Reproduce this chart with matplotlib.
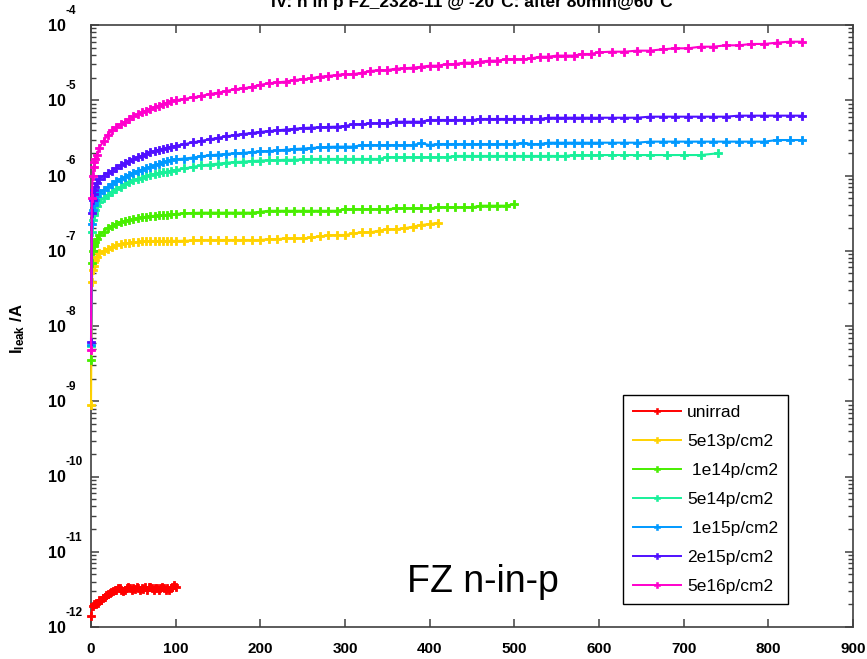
import matplotlib
matplotlib.use('Agg')
import matplotlib.pyplot as plt
from matplotlib.ticker import LogLocator, NullFormatter, NullLocator, FixedLocator, FixedFormatter
from matplotlib.lines import Line2D

plt.rcParams['font.family'] = ['Liberation Sans', 'DejaVu Sans']
plt.rcParams['mathtext.fontset'] = 'custom'
plt.rcParams['mathtext.rm'] = 'Liberation Sans'
plt.rcParams['mathtext.bf'] = 'Liberation Sans:bold'
plt.rcParams['mathtext.it'] = 'Liberation Sans:italic'

# ---------------- data ----------------
title = "IV: n in p FZ_2328-11 @ -20\u00b0C: after 80min@60\u00b0C"
annotation = "FZ n-in-p"
ylabel = r"$\mathbf{I_{leak}}$ /A"
labels = ['unirrad', '5e13p/cm2', ' 1e14p/cm2', '5e14p/cm2', ' 1e15p/cm2', '2e15p/cm2', '5e16p/cm2']
colors = ['#ff0000', '#ffd200', '#48ee00', '#18f09a', '#0099ff', '#5010ff', '#ff00cc']
x_ticks = [0, 100, 200, 300, 400, 500, 600, 700, 800, 900]
y_exponents = [-12, -11, -10, -9, -8, -7, -6, -5, -4]

# bias voltages (V)
v_start = [0, 1, 2, 3, 4, 5, 7] + list(range(10, 101, 5))
v_mid = list(range(110, 591, 10))
v_high = list(range(600, 841, 15))
v_unirrad = list(range(0, 101, 2))
v_5e13 = v_start + list(range(110, 411, 10))
v_1e14 = v_start + list(range(110, 501, 10))
v_5e14 = v_start + v_mid + [600, 615, 630, 645, 660, 680, 700, 720, 740]
v_1e15 = v_start + v_mid + v_high
v_2e15 = v_start + v_mid + v_high
v_5e16 = v_start + v_mid + v_high

# leakage currents (A)
i_unirrad = [1.4e-12, 1.9e-12, 2.05e-12, 2.05e-12, 2.1e-12, 2.25e-12, 2.3e-12, 2.4e-12, 2.5e-12, 2.7e-12,
             2.75e-12, 2.8e-12, 2.95e-12, 3.0e-12, 3.15e-12, 3.1e-12, 3.25e-12, 3.3e-12, 3.15e-12, 3.0e-12,
             3.15e-12, 3.3e-12, 3.4e-12, 3.25e-12, 3.15e-12, 3.3e-12, 3.2e-12, 3.4e-12, 3.25e-12, 3.15e-12,
             3.3e-12, 3.2e-12, 3.4e-12, 3.15e-12, 3.4e-12, 3.45e-12, 3.25e-12, 3.1e-12, 3.25e-12, 3.3e-12,
             3.15e-12, 3.25e-12, 3.4e-12, 3.25e-12, 3.1e-12, 3.25e-12, 3.15e-12, 3.3e-12, 3.45e-12, 3.6e-12,
             3.45e-12]

i_5e13 = [8.9e-10, 3.9e-8, 5.5e-8, 6.3e-8, 7.0e-8, 7.6e-8, 8.3e-8,
          9.3e-8, 1.0e-7, 1.07e-7, 1.12e-7, 1.18e-7, 1.22e-7, 1.25e-7, 1.27e-7, 1.29e-7, 1.31e-7,
          1.33e-7, 1.34e-7, 1.35e-7, 1.35e-7, 1.35e-7, 1.35e-7, 1.35e-7, 1.36e-7, 1.35e-7,
          1.36e-7, 1.37e-7, 1.39e-7, 1.39e-7, 1.39e-7, 1.39e-7, 1.39e-7, 1.39e-7, 1.39e-7, 1.39e-7,
          1.43e-7, 1.43e-7, 1.46e-7, 1.46e-7, 1.46e-7, 1.5e-7, 1.55e-7, 1.6e-7, 1.62e-7, 1.62e-7,
          1.7e-7, 1.76e-7, 1.76e-7, 1.85e-7, 1.93e-7, 1.93e-7, 1.99e-7, 2.09e-7, 2.2e-7, 2.27e-7,
          2.36e-7]

i_1e14 = [3.5e-9, 6.9e-8, 1.0e-7, 1.15e-7, 1.22e-7, 1.3e-7, 1.45e-7,
          1.62e-7, 1.8e-7, 2.0e-7, 2.15e-7, 2.3e-7, 2.42e-7, 2.5e-7, 2.57e-7, 2.63e-7, 2.7e-7,
          2.78e-7, 2.84e-7, 2.88e-7, 2.92e-7, 2.95e-7, 2.98e-7, 3.0e-7, 3.05e-7, 3.08e-7,
          3.15e-7, 3.18e-7, 3.21e-7, 3.21e-7, 3.21e-7, 3.21e-7, 3.21e-7, 3.21e-7, 3.21e-7, 3.3e-7,
          3.4e-7, 3.4e-7, 3.4e-7, 3.4e-7, 3.4e-7, 3.4e-7, 3.4e-7, 3.4e-7, 3.4e-7,
          3.56e-7, 3.56e-7, 3.56e-7, 3.56e-7, 3.56e-7, 3.56e-7,
          3.66e-7, 3.66e-7, 3.66e-7, 3.66e-7, 3.66e-7,
          3.78e-7, 3.78e-7, 3.78e-7, 3.78e-7, 3.78e-7,
          3.97e-7, 3.97e-7, 3.97e-7, 3.97e-7, 4.18e-7]

i_5e14 = [5.4e-9, 1.8e-7, 2.6e-7, 3.0e-7, 3.2e-7, 3.5e-7, 3.9e-7,
          4.4e-7, 5.0e-7, 5.5e-7, 6.1e-7, 6.6e-7, 7.1e-7, 7.6e-7, 8.1e-7, 8.6e-7, 9.0e-7,
          9.4e-7, 9.8e-7, 1.02e-6, 1.05e-6, 1.08e-6, 1.1e-6, 1.13e-6, 1.16e-6, 1.18e-6,
          1.24e-6, 1.3e-6, 1.36e-6, 1.4e-6, 1.44e-6, 1.48e-6, 1.51e-6, 1.53e-6, 1.56e-6, 1.58e-6,
          1.6e-6, 1.6e-6, 1.62e-6, 1.62e-6, 1.64e-6, 1.66e-6, 1.66e-6, 1.66e-6, 1.66e-6, 1.66e-6,
          1.66e-6, 1.66e-6, 1.66e-6, 1.66e-6,
          1.75e-6, 1.75e-6, 1.75e-6, 1.75e-6, 1.75e-6, 1.75e-6, 1.75e-6, 1.75e-6,
          1.82e-6, 1.82e-6, 1.82e-6, 1.82e-6, 1.82e-6, 1.82e-6, 1.82e-6, 1.82e-6, 1.82e-6, 1.82e-6,
          1.82e-6, 1.82e-6, 1.82e-6, 1.82e-6,
          1.87e-6, 1.87e-6, 1.87e-6,
          1.87e-6, 1.87e-6, 1.87e-6, 1.87e-6, 1.87e-6, 1.87e-6, 1.87e-6, 1.87e-6, 1.97e-6]

i_1e15 = [5.6e-9, 2.3e-7, 3.5e-7, 4.0e-7, 4.4e-7, 4.7e-7, 5.3e-7,
          5.8e-7, 6.4e-7, 7.0e-7, 7.7e-7, 8.4e-7, 9.0e-7, 9.6e-7, 1.02e-6, 1.09e-6, 1.14e-6,
          1.2e-6, 1.25e-6, 1.3e-6, 1.37e-6, 1.43e-6, 1.5e-6, 1.55e-6, 1.6e-6, 1.64e-6,
          1.68e-6, 1.73e-6, 1.8e-6, 1.85e-6, 1.9e-6, 1.94e-6, 1.97e-6, 2.0e-6, 2.05e-6, 2.09e-6,
          2.12e-6, 2.15e-6, 2.2e-6, 2.25e-6, 2.28e-6, 2.32e-6, 2.36e-6, 2.4e-6, 2.42e-6, 2.42e-6,
          2.42e-6,
          2.54e-6, 2.54e-6, 2.54e-6, 2.54e-6, 2.54e-6, 2.54e-6, 2.54e-6,
          2.68e-6, 2.54e-6, 2.62e-6,
          2.62e-6, 2.62e-6, 2.62e-6, 2.62e-6, 2.62e-6, 2.62e-6, 2.62e-6, 2.62e-6, 2.62e-6,
          2.73e-6, 2.62e-6, 2.62e-6,
          2.73e-6, 2.73e-6, 2.73e-6, 2.73e-6, 2.73e-6, 2.73e-6,
          2.73e-6, 2.73e-6, 2.73e-6, 2.73e-6,
          2.82e-6, 2.82e-6, 2.82e-6, 2.82e-6, 2.82e-6, 2.82e-6, 2.82e-6, 2.82e-6, 2.82e-6, 2.82e-6,
          2.96e-6, 2.96e-6, 2.96e-6]

i_2e15 = [6.2e-9, 3.2e-7, 4.7e-7, 5.6e-7, 6.4e-7, 7.0e-7, 8.0e-7,
          9.1e-7, 1.0e-6, 1.07e-6, 1.16e-6, 1.27e-6, 1.36e-6, 1.45e-6, 1.55e-6, 1.65e-6, 1.75e-6,
          1.84e-6, 1.93e-6, 2.03e-6, 2.12e-6, 2.2e-6, 2.28e-6, 2.35e-6, 2.42e-6, 2.48e-6,
          2.6e-6, 2.75e-6, 2.88e-6, 3.02e-6, 3.17e-6, 3.32e-6, 3.45e-6, 3.56e-6, 3.68e-6, 3.8e-6,
          3.9e-6, 3.98e-6, 4.08e-6, 4.18e-6, 4.27e-6, 4.33e-6, 4.38e-6, 4.42e-6, 4.46e-6, 4.55e-6,
          4.79e-6, 4.79e-6, 4.94e-6, 4.94e-6, 4.94e-6,
          5.19e-6, 5.19e-6, 5.19e-6, 5.19e-6,
          5.47e-6, 5.47e-6, 5.47e-6, 5.47e-6, 5.47e-6, 5.47e-6,
          5.64e-6, 5.64e-6, 5.64e-6, 5.64e-6, 5.64e-6, 5.64e-6, 5.64e-6, 5.64e-6,
          5.86e-6, 5.86e-6, 5.86e-6, 5.86e-6, 5.86e-6, 5.86e-6,
          5.86e-6, 5.86e-6, 5.86e-6, 5.86e-6,
          6.05e-6, 6.05e-6, 6.05e-6, 6.05e-6, 6.05e-6, 6.05e-6, 6.05e-6,
          6.24e-6, 6.24e-6, 6.24e-6, 6.24e-6, 6.24e-6, 6.24e-6]

i_5e16 = [4.8e-9, 5.1e-7, 1.0e-6, 1.3e-6, 1.5e-6, 1.65e-6, 1.9e-6,
          2.35e-6, 2.9e-6, 3.5e-6, 4.0e-6, 4.4e-6, 4.8e-6, 5.2e-6, 5.6e-6, 6.1e-6, 6.5e-6,
          6.9e-6, 7.3e-6, 7.7e-6, 8.1e-6, 8.5e-6, 8.9e-6, 9.3e-6, 9.7e-6, 1.0e-5,
          1.04e-5, 1.09e-5, 1.14e-5, 1.21e-5, 1.26e-5, 1.33e-5, 1.40e-5, 1.44e-5, 1.51e-5, 1.60e-5,
          1.68e-5, 1.73e-5, 1.77e-5, 1.86e-5, 1.90e-5, 1.96e-5, 2.06e-5, 2.10e-5, 2.17e-5, 2.23e-5,
          2.23e-5, 2.32e-5, 2.45e-5, 2.52e-5, 2.52e-5, 2.63e-5, 2.66e-5, 2.71e-5, 2.79e-5, 2.88e-5,
          2.88e-5, 3.03e-5, 3.03e-5, 3.16e-5, 3.16e-5, 3.26e-5, 3.36e-5, 3.36e-5, 3.50e-5, 3.50e-5,
          3.50e-5, 3.60e-5, 3.79e-5, 3.79e-5, 3.92e-5, 3.92e-5, 3.92e-5, 4.12e-5, 4.12e-5,
          4.34e-5, 4.42e-5, 4.42e-5, 4.56e-5, 4.56e-5, 4.75e-5, 4.9e-5, 4.9e-5, 5.15e-5, 5.15e-5,
          5.37e-5, 5.37e-5, 5.6e-5, 5.6e-5, 5.82e-5, 6.0e-5, 6.0e-5]

voltages = [v_unirrad, v_5e13, v_1e14, v_5e14, v_1e15, v_2e15, v_5e16]
currents = [i_unirrad, i_5e13, i_1e14, i_5e14, i_1e15, i_2e15, i_5e16]

# ---------------- figure ----------------
W, H = 867, 659
fig = plt.figure(figsize=(W / 100, H / 100), dpi=100)
ax = fig.add_axes([91 / W, 32 / H, 762 / W, 602 / H])

for v, i, c, lab in zip(voltages, currents, colors, labels):
    n = min(len(v), len(i))
    ax.plot(v[:n], i[:n], color=c, lw=1.5, marker='P', ms=6.2, mew=0.6, mec=c,
            label=lab, clip_on=False, zorder=3)

ax.set_yscale('log')
ax.set_xlim(0, 900)
ax.set_ylim(1e-12, 1e-4)

spine_col = '#404040'
for s in ax.spines.values():
    s.set_color(spine_col)
    s.set_linewidth(1.2)

ax.xaxis.set_major_locator(FixedLocator(x_ticks))
ax.xaxis.set_minor_locator(NullLocator())
ax.set_xticklabels([str(t) for t in x_ticks], fontweight='bold', fontsize=11)
ax.yaxis.set_major_locator(FixedLocator([10.0 ** e for e in y_exponents]))
ax.yaxis.set_major_formatter(FixedFormatter(['10'] * len(y_exponents)))
ax.yaxis.set_minor_locator(LogLocator(base=10, subs=[2, 3, 4, 5, 6, 7, 8, 9], numticks=20))
ax.yaxis.set_minor_formatter(NullFormatter())
for lbl in ax.get_yticklabels():
    lbl.set_fontweight('bold')
    lbl.set_fontsize(11.5)

ax.tick_params(axis='x', which='major', direction='in', top=True, length=6, width=1.1,
               color=spine_col, pad=11)
ax.tick_params(axis='y', which='major', direction='in', right=True, length=6, width=1.1,
               color=spine_col, pad=18)
ax.tick_params(axis='y', which='minor', direction='in', right=True, length=3.5, width=1.0,
               color=spine_col)

for e in y_exponents:
    ax.annotate(str(e), xy=(0, 10.0 ** e), xycoords=('axes fraction', 'data'),
                xytext=(-18.7, 8), textcoords='offset points', ha='left', va='baseline',
                fontsize=8.5, fontweight='bold')

fig.text(18 / W, 1 - 329 / H, ylabel, rotation=90, ha='center', va='center',
         fontsize=12, fontweight='bold')
fig.text(472 / W, 1 - 7 / H, title, ha='center', va='baseline', fontsize=12.5,
         fontweight='bold')
ax.text(0.4147, 0.058, annotation, transform=ax.transAxes, ha='left', va='baseline',
        fontsize=27)

handles = [Line2D([], [], color=c, lw=1.4, marker='P', ms=5, mew=0.4, mec=c) for c in colors]
leg = ax.legend(handles, labels, loc='upper left',
                bbox_to_anchor=((623 - 91) / 762, (627 - 395) / 602),
                fontsize=12.5, frameon=True, fancybox=False, edgecolor='black',
                framealpha=1, borderpad=0.55, labelspacing=0.8, handlelength=2.8,
                handletextpad=0.35, borderaxespad=0.0)
leg.get_frame().set_linewidth(1.0)

fig.savefig('out.png', dpi=100)
